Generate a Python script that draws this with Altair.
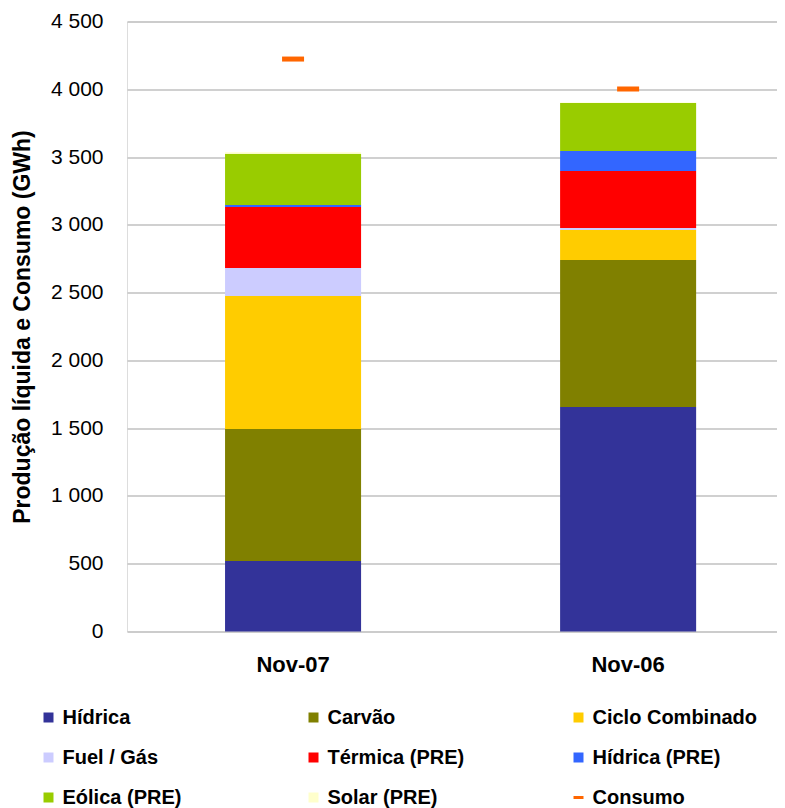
import altair as alt
import pandas as pd

months = ["Nov-07", "Nov-06"]
series = ["Hídrica", "Carvão", "Ciclo Combinado", "Fuel / Gás",
          "Térmica (PRE)", "Hídrica (PRE)", "Eólica (PRE)", "Solar (PRE)"]
hidrica = [520, 1656]
carvao = [974, 1085]
ciclo_combinado = [981, 221]
fuel_gas = [207, 15]
termica_pre = [450, 420]
hidrica_pre = [15, 148]
eolica_pre = [377, 354]
solar_pre = [12, 3]
consumo = [4223, 4002]

series_values = [hidrica, carvao, ciclo_combinado, fuel_gas,
                 termica_pre, hidrica_pre, eolica_pre, solar_pre]
colors = ["#333399", "#808000", "#FFCC00", "#CCCCFF",
          "#FF0000", "#3366FF", "#99CC00", "#FFFFCC", "#FF6600"]
legend_domain = series + ["Consumo"]

rows = []
for k, (name, vals) in enumerate(zip(series, series_values)):
    for m, v in zip(months, vals):
        rows.append({"mes": m, "serie": name, "valor": v, "ordem": k})
bars_df = pd.DataFrame(rows)
cons_df = pd.DataFrame({"mes": months, "serie": ["Consumo"] * 2, "valor": consumo})

FONT = "Liberation Sans"

x_enc = alt.X(
    "mes:N", sort=months,
    scale=alt.Scale(paddingInner=0.594, paddingOuter=0.267, align=0.548),
    axis=alt.Axis(title=None, labelAngle=0, labelFont=FONT, labelFontSize=22,
                  labelFontWeight="bold", labelColor="#000000", labelPadding=23,
                  ticks=False, domain=False, grid=False),
)

y_axis = alt.Axis(
    values=list(range(0, 4501, 500)),
    labelExpr="replace(format(datum.value, ','), ',', ' ')",
    labelFont=FONT, labelFontSize=21, labelColor="#000000", labelPadding=24,
    ticks=False, domain=False, grid=True, gridColor="#c0c0c0", gridWidth=1.5,
    title="Produção líquida e Consumo (GWh)", titleFont=FONT, titleFontSize=23,
    titleFontWeight="bold", titleColor="#000000", titleX=-105, titleBaseline="middle",
)

color_enc = alt.Color(
    "serie:N",
    scale=alt.Scale(domain=legend_domain, range=colors),
    legend=alt.Legend(
        orient="none", legendX=-88.5, legendY=686, direction="horizontal",
        columns=3, title=None,
        symbolType={"expr": "datum.value == 'Consumo' ? 'M-1,-0.3H1V0.3H-1Z' : 'square'"},
        symbolSize=100, symbolStrokeWidth=0, symbolOpacity=1,
        labelFont=FONT, labelFontSize=20, labelFontWeight="bold",
        labelColor="#000000", labelOffset=4, labelLimit=400,
        columnPadding=76, rowPadding=20, gridAlign="all",
    ),
)

bars = alt.Chart(bars_df).mark_bar().encode(
    x=x_enc,
    y=alt.Y("valor:Q", stack="zero",
            scale=alt.Scale(domain=[0, 4500], nice=False), axis=y_axis),
    color=color_enc,
    order=alt.Order("ordem:Q", sort="ascending"),
)

ticks = alt.Chart(cons_df).mark_tick(size=22, thickness=5, opacity=1).encode(
    x=alt.X("mes:N", sort=months),
    y=alt.Y("valor:Q"),
    color=alt.Color("serie:N"),
)

chart = alt.layer(bars, ticks).properties(
    width=650, height=610, autosize="none",
    padding={"left": 119, "top": 13.5, "right": 0, "bottom": 177},
).configure_view(stroke=None).configure(background="#ffffff")

chart.save("out.html", embed_options={"renderer": "svg", "actions": False})
